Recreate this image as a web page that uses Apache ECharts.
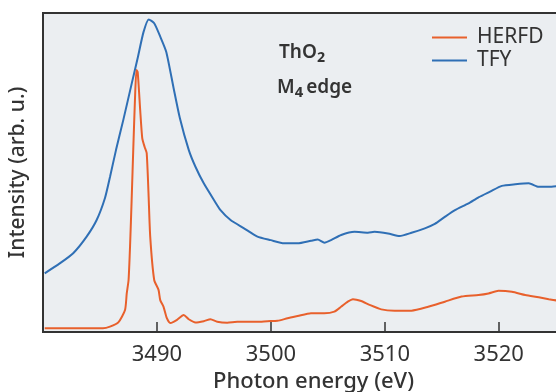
<!DOCTYPE html>
<html>
<head>
<meta charset="utf-8">
<script src="https://cdn.jsdelivr.net/npm/echarts@6/dist/echarts.min.js"></script>
<style>
  html, body { margin: 0; padding: 0; background: #ffffff; }
  #chart { width: 556px; height: 392px; }
</style>
</head>
<body>
<div id="chart"></div>
<script>
// Th M4-edge spectra of ThO2: photon energy (eV) and normalised intensity.
const tfyEnergy = [3480.15, 3481.47, 3482.65, 3483.83, 3484.71, 3485.44, 3485.88, 3486.41, 3487.05, 3487.80,
  3488.31, 3488.82, 3489.28, 3489.76, 3490.29, 3490.82, 3491.46, 3492.01, 3492.79, 3493.38,
  3494.11, 3495.00, 3495.58, 3496.46, 3497.64, 3498.82, 3499.99, 3501.16, 3502.35, 3503.52,
  3504.11, 3504.70, 3505.28, 3506.17, 3507.34, 3508.52, 3509.10, 3510.28, 3511.30, 3512.34,
  3513.51, 3514.39, 3515.27, 3516.16, 3517.34, 3518.22, 3519.24, 3520.27, 3521.45, 3522.63,
  3523.51, 3524.39, 3525.21];
const tfyIntensity = [0.184, 0.215, 0.247, 0.299, 0.351, 0.420, 0.486, 0.571, 0.665, 0.781,
  0.859, 0.940, 0.980, 0.968, 0.926, 0.878, 0.765, 0.671, 0.571, 0.518,
  0.466, 0.414, 0.382, 0.351, 0.325, 0.299, 0.288, 0.278, 0.278, 0.286,
  0.290, 0.280, 0.288, 0.304, 0.314, 0.311, 0.314, 0.309, 0.301, 0.311,
  0.325, 0.339, 0.361, 0.382, 0.403, 0.422, 0.440, 0.458, 0.463, 0.466,
  0.455, 0.455, 0.458];

const herfdEnergy = [3480.15, 3485.26, 3485.88, 3486.61, 3487.20, 3487.35, 3487.51, 3487.65, 3487.78, 3487.94,
  3488.07, 3488.20, 3488.31, 3488.53, 3488.71, 3488.92, 3489.10, 3489.26, 3489.41, 3489.76,
  3490.14, 3490.29, 3490.58, 3490.86, 3491.17, 3491.46, 3491.76, 3492.35, 3492.79, 3493.38,
  3494.11, 3494.70, 3495.29, 3496.17, 3497.05, 3497.94, 3498.82, 3499.70, 3500.58, 3501.46,
  3502.35, 3503.52, 3504.69, 3505.57, 3506.16, 3506.75, 3507.20, 3507.93, 3508.66, 3509.69,
  3510.86, 3512.34, 3513.81, 3515.27, 3516.74, 3518.22, 3519.10, 3519.98, 3521.15, 3522.33,
  3523.51, 3524.39, 3525.21];
const herfdIntensity = [0.012, 0.012, 0.017, 0.030, 0.069, 0.121, 0.163, 0.278, 0.414, 0.592,
  0.727, 0.821, 0.815, 0.696, 0.608, 0.580, 0.561, 0.435, 0.299, 0.163,
  0.132, 0.100, 0.079, 0.044, 0.028, 0.032, 0.038, 0.053, 0.040, 0.030,
  0.034, 0.040, 0.032, 0.029, 0.032, 0.032, 0.032, 0.034, 0.035, 0.043,
  0.050, 0.059, 0.059, 0.064, 0.079, 0.095, 0.103, 0.097, 0.085, 0.071,
  0.067, 0.067, 0.079, 0.095, 0.111, 0.116, 0.121, 0.129, 0.126, 0.116,
  0.109, 0.103, 0.098];

const xTicks = [3490, 3500, 3510, 3520];
const seriesNames = ['HERFD', 'TFY'];

const pair = (xs, ys) => xs.map((x, i) => [x, ys[i]]);
const FONT = 'Noto Sans';
const INK = '#333333';

// Compound / edge labels: subscript digits set a little larger so they read clearly.
const annotationRich = {
  b: { fontSize: 19, fontWeight: 600, fontFamily: FONT, fill: INK, lineHeight: 26 },
  s: { fontSize: 23, fontWeight: 600, fontFamily: FONT, fill: INK, lineHeight: 26, padding: [0, 3, 0, 0] }
};

const chart = echarts.init(document.getElementById('chart'), null, { renderer: 'canvas' });
chart.setOption({
  animation: false,
  backgroundColor: '#ffffff',
  textStyle: { fontFamily: FONT },
  grid: {
    left: 43, right: -2, top: 13, bottom: 60,
    outerBoundsMode: 'none', containLabel: false,
    show: true, backgroundColor: '#ebeef1',
    borderColor: INK, borderWidth: 2
  },
  xAxis: {
    type: 'value', min: 3480, max: 3525.2, interval: 10,
    axisLine: { show: true, lineStyle: { color: INK, width: 2 } },
    axisTick: { show: true, inside: true, length: 10, lineStyle: { color: INK, width: 1.5 } },
    axisLabel: {
      color: INK, fontSize: 22, fontFamily: FONT, margin: 12,
      formatter: v => (xTicks.indexOf(v) >= 0 ? String(v) : '')
    },
    splitLine: { show: false },
    name: 'Photon energy (eV)', nameLocation: 'middle', nameGap: 37,
    nameTextStyle: { color: INK, fontSize: 22, fontWeight: 500, fontFamily: FONT, padding: [0, 0, 0, 26] }
  },
  yAxis: {
    type: 'value', min: 0, max: 1,
    axisLine: { show: true, lineStyle: { color: INK, width: 2 } },
    axisTick: { show: false },
    axisLabel: { show: false },
    splitLine: { show: false },
    name: 'Intensity (arb. u.)', nameLocation: 'middle', nameGap: 14, nameRotate: 90,
    nameTextStyle: { color: INK, fontSize: 21, fontWeight: 500, fontFamily: FONT }
  },
  legend: {
    data: seriesNames, orient: 'vertical', left: 432, top: 27, padding: 0,
    icon: 'rect', itemWidth: 35, itemHeight: 2, itemGap: 2,
    textStyle: { color: INK, fontSize: 21, fontFamily: FONT, lineHeight: 21, padding: [0, 0, 0, 5] }
  },
  graphic: [
    {
      type: 'text', left: 279, top: 41, z: 10,
      style: { text: '{b|ThO}{s|₂}', fill: INK, rich: annotationRich }
    },
    {
      type: 'text', left: 277, top: 76, z: 10,
      style: { text: '{b|M}{s|₄}{b|edge}', fill: INK, rich: annotationRich }
    }
  ],
  series: [
    {
      name: 'HERFD', type: 'line', data: pair(herfdEnergy, herfdIntensity),
      showSymbol: false, symbol: 'none', smooth: 0.2,
      lineStyle: { color: '#e8602c', width: 2 }, itemStyle: { color: '#e8602c' }, z: 3
    },
    {
      name: 'TFY', type: 'line', data: pair(tfyEnergy, tfyIntensity),
      showSymbol: false, symbol: 'none', smooth: 0.2,
      lineStyle: { color: '#2f6fb5', width: 2 }, itemStyle: { color: '#2f6fb5' }, z: 2
    }
  ]
});
</script>
</body>
</html>
